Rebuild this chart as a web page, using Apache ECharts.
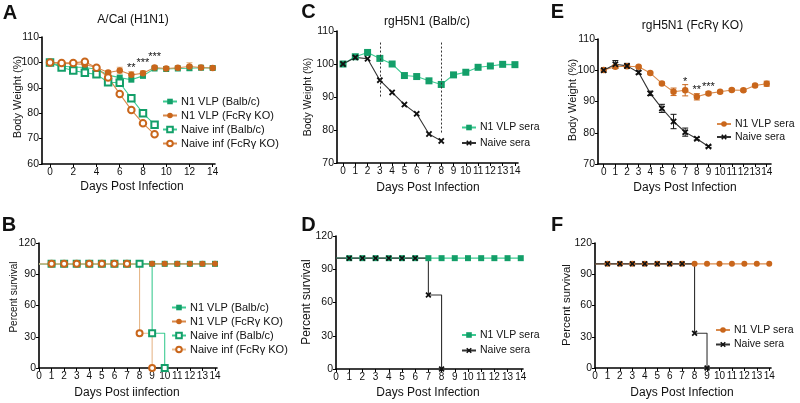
<!DOCTYPE html>
<html><head><meta charset="utf-8">
<script src="https://cdn.jsdelivr.net/npm/echarts@6/dist/echarts.min.js"></script>
<style>html,body{margin:0;padding:0;background:#fff}#c{width:800px;height:403px}</style>
</head><body><div id="c"></div>
<script>
// ---------- data ----------
const days = [0,1,2,3,4,5,6,7,8,9,10,11,12,13,14];
const ticksA = [0,2,4,6,8,10,12,14];
const ticks1 = days;

// Panel A (A/Cal H1N1) body weight %
const aN1Balb   = [100, 98.5, 98.2, 98, 97.3, 95, 94, 93.2, 94.7, 97.6, 97.4, 97.6, 97.7, 97.9, 97.8];
const aN1FcR    = [100, 99.6, 99.5, 99.2, 98, 96, 96.8, 95.1, 95.7, 98, 97.6, 97.9, 98.4, 98, 97.8];
const aNaiveBalb= [100, 98, 96.8, 95.9, 95.3, 92.2, 92, 85.9, 80, 75.5];
const aNaiveFcR = [100, 99.8, 99.8, 100.3, 97.9, 94.1, 87.6, 81.3, 76, 71.7];
const aN1FcRErr = [0, 0.3, 0.4, 0.4, 0.4, 0.8, 1.3, 1.3, 1.0, 0.5, 0.6, 0.7, 1.5, 0.6, 0.4];
const aStars = [[7, 97.9, '**'], [8, 99.9, '***'], [9, 102.3, '***']];

// Panel C (rgH5N1 Balb/c)
const cN1    = [100, 102.2, 103.5, 101.7, 100, 96.5, 96.2, 94.9, 93.8, 96.7, 97.5, 99, 99.4, 99.9, 99.8];
const cNaive = [100, 102, 101.6, 95.1, 91.4, 87.7, 84.9, 78.8, 76.7];
const cDash = [[3, 106.5, 89.8], [8, 106.5, 78.8]];
const cP = [5.63, 104.9];

// Panel E (rgH5N1 FcRγ KO)
const eN1       = [100.1, 101.1, 101.3, 101.1, 99.1, 95.8, 93.1, 93.6, 91.5, 92.6, 93.1, 93.7, 93.6, 95.1, 95.7];
const eNaive    = [100, 101.9, 101.4, 99.3, 92.6, 87.8, 83.6, 80.2, 78.1, 75.6];
const eN1Err    = [0, 0.5, 0.5, 0.3, 0.3, 0.4, 1.2, 1.8, 1.0, 0.5, 0.4, 0.4, 0.4, 0.4, 0.8];
const eNaiveErr = [0, 1.2, 0.8, 0.5, 0.7, 1.3, 2.3, 1.3, 0.4, 0.3];
const eStars = [[7, 96.2, '*'], [8, 93.6, '**'], [9, 94.7, '***']];

// Survival (%)
const bN1Balb    = [100,100,100,100,100,100,100,100,100,100,100,100,100,100,100];
const bN1FcR     = [100,100,100,100,100,100,100,100,100,100,100,100,100,100,100];
const bNaiveBalb = [100,100,100,100,100,100,100,100,100,33.3,0];
const bNaiveFcR  = [100,100,100,100,100,100,100,100,33.3,0];
const dN1        = [100,100,100,100,100,100,100,100,100,100,100,100,100,100,100];
const dNaive     = [100,100,100,100,100,100,100,66.7,0];
const fN1        = [100,100,100,100,100,100,100,100,100,100,100,100,100,100,100];
const fNaive     = [100,100,100,100,100,100,100,100,33.3,0];

// ---------- style ----------
const FONT = "'Liberation Sans Narrow','Liberation Sans',Arial,sans-serif";
const FONTW = "'Liberation Sans',Arial,sans-serif";
const GREEN = '#139f69', GREENL = '#3ccb92', ORANGE = '#c9661b', ORANGEL = '#d98a4c', TAN = '#e6b88b';
const BLACK = '#111', GRAYL = '#333';
const XSYM = 'path://M2,0L5,3L8,0L10,2L7,5L10,8L8,10L5,7L2,10L0,8L3,5L0,2Z';

const grids = [
  {left:42, top:37, width:173, height:127},   // A
  {left:337, top:31, width:181, height:132},  // C
  {left:598, top:39, width:173, height:125},  // E
  {left:39, top:243, width:178, height:125},  // B
  {left:336, top:236, width:187, height:133}, // D
  {left:595, top:243, width:176, height:125}  // F
];
const xr = [[-0.69,14.2,ticksA],[-0.49,14.25,ticks1],[-0.49,14.37,ticks1],[0,14.16,ticks1],[0,14.17,ticks1],[0,14.14,ticks1]];
const yr = [[60,110,10],[70,110,10],[70,110,10],[0,120,30],[0,120,30],[0,120,30]];

const xAxes = xr.map((r,i)=>({type:'value', gridIndex:i, min:r[0], max:r[1],
  axisLine:{show:true, onZero:false, lineStyle:{color:'#000', width:1.6}},
  axisTick:{show:true, length:3, customValues:r[2], lineStyle:{color:'#000', width:1}},
  axisLabel:{customValues:r[2], fontSize:10, color:'#111', margin:3, fontFamily:FONT},
  splitLine:{show:false}}));
const yAxes = yr.map((r,i)=>({type:'value', gridIndex:i, min:r[0], max:r[1], interval:r[2],
  axisLine:{show:true, onZero:false, lineStyle:{color:'#000', width:1.6}},
  axisTick:{show:true, length:3, lineStyle:{color:'#000', width:1}},
  axisLabel:{fontSize:10.5, color:'#111', margin:3, fontFamily:FONT},
  splitLine:{show:false}}));

function pts(ys){ return ys.map((y,i)=>[days[i], y]); }
function line(name, gi, ys, sym, size, color, lcolor, extra){
  return Object.assign({type:'line', name, xAxisIndex:gi, yAxisIndex:gi, data:pts(ys),
    symbol:sym, symbolSize:size, showAllSymbol:true,
    itemStyle:{color:color, borderColor:color, borderWidth: sym.indexOf('empty')===0 ? 1.4 : 0},
    lineStyle:{color:lcolor, width:1.1}, emphasis:{disabled:true}}, extra||{});
}
function surv(name, gi, ys, sym, size, color, lcolor){
  return line(name, gi, ys, sym, size, color, lcolor, {step:'end',
    symbolSize:(v)=> v[0]===0 ? 0 : size});
}
function errBars(gi, ys, errs, color){
  return {type:'custom', xAxisIndex:gi, yAxisIndex:gi, silent:true, z:1,
    data: ys.map((y,i)=>[days[i], y, errs[i]]),
    renderItem:(p, api)=>{
      const x=api.value(0), y=api.value(1), e=api.value(2);
      if(!e) return null;
      const t=api.coord([x,y+e]), b=api.coord([x,y-e]);
      const st={stroke:color, lineWidth:1};
      return {type:'group', children:[
        {type:'line', shape:{x1:t[0],y1:t[1],x2:b[0],y2:b[1]}, style:st},
        {type:'line', shape:{x1:t[0]-3,y1:t[1],x2:t[0]+3,y2:t[1]}, style:st},
        {type:'line', shape:{x1:b[0]-3,y1:b[1],x2:b[0]+3,y2:b[1]}, style:st}]};
    }};
}
function stars(gi, arr){
  return {type:'scatter', xAxisIndex:gi, yAxisIndex:gi, silent:true, symbolSize:1,
    itemStyle:{opacity:0}, data:arr,
    label:{show:true, position:'inside', formatter:(p)=>p.value[2], color:'#111', fontSize:11, fontFamily:FONTW, opacity:1}};
}

const series = [
  // A
  errBars(0, aN1FcR, aN1FcRErr, TAN),
  line('A|N1 VLP (Balb/c)', 0, aN1Balb, 'rect', 6, GREEN, GREENL),
  line('A|N1 VLP (FcRγ KO)', 0, aN1FcR, 'circle', 6.5, ORANGE, ORANGEL),
  line('A|Naive inf (Balb/c)', 0, aNaiveBalb, 'emptyRect', 6.5, GREEN, GREENL),
  line('A|Naive inf (FcRγ KO)', 0, aNaiveFcR, 'emptyCircle', 6.5, ORANGE, ORANGEL),
  stars(0, aStars),
  // C
  line('C|N1 VLP sera', 1, cN1, 'rect', 7, GREEN, GREENL, {markLine:{silent:true, symbol:['none','none'], label:{show:false},
    lineStyle:{type:[2,2], color:'#333', width:1},
    data: cDash.map(d=>[{coord:[d[0], d[1]]},{coord:[d[0], d[2]]}])}}),
  line('C|Naive sera', 1, cNaive, XSYM, 6.5, BLACK, GRAYL),
  {type:'scatter', xAxisIndex:1, yAxisIndex:1, silent:true, symbolSize:1, itemStyle:{opacity:0}, data:[cP],
    label:{show:true, position:'inside', formatter:'{i|p}<0.001', color:'#111', fontSize:11, fontFamily:FONTW,
      rich:{i:{fontStyle:'italic', fontSize:11, fontFamily:FONTW, color:'#111'}}}},
  // E
  errBars(2, eN1, eN1Err, ORANGE),
  errBars(2, eNaive, eNaiveErr, BLACK),
  line('E|N1 VLP sera', 2, eN1, 'circle', 6.5, ORANGE, ORANGEL),
  line('E|Naive sera', 2, eNaive, XSYM, 6.5, BLACK, GRAYL),
  stars(2, eStars),
  // B
  surv('B|N1 VLP (Balb/c)', 3, bN1Balb, 'rect', 6, GREEN, GREENL),
  surv('B|N1 VLP (FcRγ KO)', 3, bN1FcR, 'circle', 6, ORANGE, ORANGEL),
  surv('B|Naive inf (Balb/c)', 3, bNaiveBalb, 'emptyRect', 6, GREEN, GREENL),
  surv('B|Naive inf (FcRγ KO)', 3, bNaiveFcR, 'emptyCircle', 6, ORANGE, TAN),
  // D
  surv('D|N1 VLP sera', 4, dN1, 'rect', 6, GREEN, GREENL),
  surv('D|Naive sera', 4, dNaive, XSYM, 6, BLACK, GRAYL),
  // F
  surv('F|N1 VLP sera', 5, fN1, 'circle', 6, ORANGE, ORANGEL),
  surv('F|Naive sera', 5, fNaive, XSYM, 6, BLACK, GRAYL)
];

function legend(names, left, top, gap, fs){
  return {data:names, left, top, orient:'vertical', padding:0, itemGap:gap, itemWidth:14, itemHeight:7,
    selectedMode:false, formatter:(n)=>n.slice(2),
    textStyle:{fontSize:fs, fontFamily:FONTW, color:'#111', padding:[0,0,0,-1]}};
}
const legends = [
  legend(['A|N1 VLP (Balb/c)','A|N1 VLP (FcRγ KO)','A|Naive inf (Balb/c)','A|Naive inf (FcRγ KO)'], 162, 96, 3, 11),
  legend(['C|N1 VLP sera','C|Naive sera'], 461, 122, 4.5, 10.5),
  legend(['E|N1 VLP sera','E|Naive sera'], 716, 118.5, 2, 10.5),
  legend(['B|N1 VLP (Balb/c)','B|N1 VLP (FcRγ KO)','B|Naive inf (Balb/c)','B|Naive inf (FcRγ KO)'], 171, 302, 3, 11),
  legend(['D|N1 VLP sera','D|Naive sera'], 461, 329.5, 4.5, 10.5),
  legend(['F|N1 VLP sera','F|Naive sera'], 715, 324.5, 3.5, 10.5)
];

function txt(text, x, y, size, opts){
  opts = opts || {};
  return Object.assign({type:'text', x, y, silent:true, style:Object.assign({text, fontSize:size, fontFamily:FONTW, fill:'#111',
    textAlign:'center', textVerticalAlign:'middle'}, opts.style||{})}, opts.rot ? {rotation:Math.PI/2} : {});
}
const B = {style:{fontWeight:'bold'}};
const N = {style:{fontFamily:FONT}};
const graphics = [
  txt('A', 10, 13, 20, B),
  txt('C', 308.5, 12, 20, B),
  txt('E', 557.5, 12, 20, B),
  txt('B', 9, 225, 20, B),
  txt('D', 308.5, 225, 20, B),
  txt('F', 557, 225, 20, B),
  txt('A/Cal (H1N1)', 133, 20, 12),
  txt('rgH5N1 (Balb/c)', 427, 22, 12),
  txt('rgH5N1 (FcRγ KO)', 692.5, 26, 12),
  txt('Body Weight (%)', 18, 97, 11, {rot:true}),
  txt('Body Weight (%)', 308, 97, 10.5, {rot:true}),
  txt('Body Weight (%)', 573, 100, 11, {rot:true}),
  txt('Percent survival', 14, 297, 10, {rot:true}),
  txt('Percent survival', 307, 302, 12, {rot:true}),
  txt('Percent survival', 567, 305, 11.5, {rot:true}),
  txt('Days Post Infection', 132, 187, 12, N),
  txt('Days Post Infection', 428, 188, 12, N),
  txt('Days Post Infection', 685, 188, 12, N),
  txt('Days Post iinfection', 127, 393, 12, N),
  txt('Days Post Infection', 428, 393, 12, N),
  txt('Days Post Infection', 682, 393, 12, N)
];

const chart = echarts.init(document.getElementById('c'), null, {renderer:'canvas'});
chart.setOption({
  animation:false, backgroundColor:'#fff',
  grid: grids.map(g=>Object.assign({containLabel:false, outerBoundsMode:'none'}, g)),
  xAxis:xAxes, yAxis:yAxes, legend:legends, series, graphic:graphics
});
</script></body></html>
